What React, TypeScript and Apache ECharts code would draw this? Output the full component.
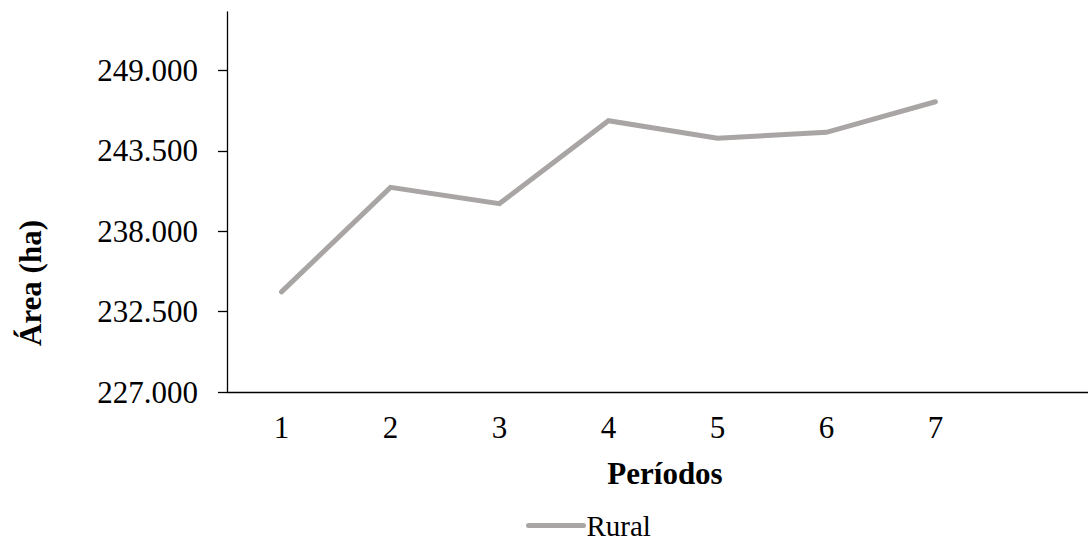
import React, { useEffect, useRef } from "react";
import * as echarts from "echarts";

const periods = [1, 2, 3, 4, 5, 6, 7];
const ruralValues = [233850, 241000, 239890, 245560, 244360, 244770, 246860];
const yTicks = [227000, 232500, 238000, 243500, 249000];
const seriesName = "Rural";
const xTitle = "Períodos";
const yTitle = "Área (ha)";

const FONT = "'Liberation Serif', 'Times New Roman', serif";

export default function App() {
  const ref = useRef<HTMLDivElement>(null);
  useEffect(() => {
    if (!ref.current) return;
    const chart = echarts.init(ref.current, undefined, { renderer: "svg" });
    chart.setOption({
      animation: false,
      backgroundColor: "#ffffff",
      textStyle: { fontFamily: FONT },
      grid: { left: 227, right: 0, top: 12, bottom: 150, containLabel: false },
      legend: {
        left: 526,
        top: 511,
        padding: 0,
        itemWidth: 55,
        itemHeight: 26,
        itemGap: 10,
        itemStyle: { color: "transparent", borderColor: "transparent", borderWidth: 0 },
        lineStyle: { color: "#A9A5A5", width: 5, cap: "round" },
        textStyle: {
          fontFamily: FONT,
          fontSize: 29,
          lineHeight: 26,
          color: "#000",
          padding: [0, 0, 0, -2],
        },
        data: [seriesName],
      },
      xAxis: {
        type: "value",
        min: 0.5,
        max: 8.4,
        splitLine: { show: false },
        axisTick: { show: false },
        axisLine: { show: true, onZero: false, lineStyle: { color: "#000", width: 1.3 } },
        axisLabel: {
          customValues: periods,
          margin: 20,
          fontFamily: FONT,
          fontSize: 31,
          color: "#000",
          formatter: (v: number) => String(v),
        },
      },
      yAxis: {
        type: "value",
        min: 227000,
        max: 253000,
        splitLine: { show: false },
        axisLine: { show: true, lineStyle: { color: "#000", width: 1.3 } },
        axisTick: { show: true, customValues: yTicks, length: 9, lineStyle: { color: "#000", width: 1.3 } },
        axisLabel: {
          customValues: yTicks,
          margin: 29,
          fontFamily: FONT,
          fontSize: 31,
          color: "#000",
          formatter: (v: number) => (v / 1000).toFixed(3),
        },
      },
      graphic: [
        {
          type: "text",
          x: 30,
          y: 283,
          rotation: Math.PI / 2,
          style: {
            text: yTitle,
            fontFamily: FONT,
            fontSize: 31,
            fontWeight: "bold",
            fill: "#000",
            align: "center",
            verticalAlign: "middle",
          },
        },
        {
          type: "text",
          x: 665,
          y: 473,
          style: {
            text: xTitle,
            fontFamily: FONT,
            fontSize: 31,
            fontWeight: "bold",
            fill: "#000",
            align: "center",
            verticalAlign: "middle",
          },
        },
      ],
      series: [
        {
          name: seriesName,
          type: "line",
          data: periods.map((p, i) => [p, ruralValues[i]]),
          symbol: "none",
          lineStyle: { color: "#A9A5A5", width: 5, cap: "round", join: "miter" },
          itemStyle: { color: "#A9A5A5" },
        },
      ],
    });
    return () => chart.dispose();
  }, []);
  return (
    <div
      ref={ref}
      style={{ position: "fixed", left: 0, top: 0, width: 1088, height: 542, background: "#fff" }}
    />
  );
}
